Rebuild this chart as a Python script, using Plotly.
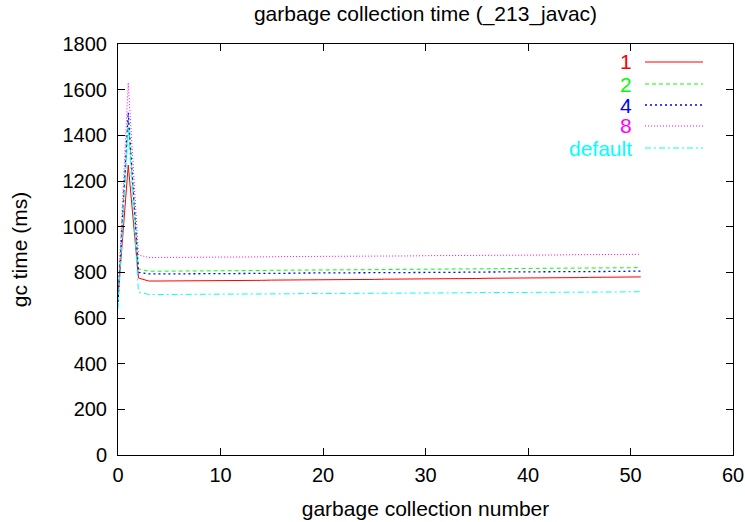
import plotly.graph_objects as go

gc_number = list(range(52))
t1 = [690, 1270, 775, 762, 762, 762, 763, 763, 763, 764, 764, 764, 765, 765, 765, 766, 766, 766, 767, 767,
      767, 768, 768, 768, 769, 769, 770, 770, 770, 771, 771, 772, 772, 772, 773, 773, 774, 774, 774, 775,
      775, 776, 776, 776, 777, 777, 778, 778, 778, 779, 779, 780]
t2 = [680, 1470, 815, 805, 805, 805, 806, 806, 806, 807, 807, 807, 808, 808, 808, 809, 809, 809, 810, 810,
      810, 811, 811, 811, 812, 812, 812, 813, 813, 813, 814, 814, 814, 815, 815, 815, 816, 816, 816, 817,
      817, 817, 818, 818, 818, 819, 819, 819, 820, 820, 820, 821]
t4 = [670, 1500, 800, 793, 793, 793, 794, 794, 794, 794, 795, 795, 795, 795, 796, 796, 796, 796, 797, 797,
      797, 797, 798, 798, 798, 798, 799, 799, 799, 799, 800, 800, 800, 800, 801, 801, 801, 801, 802, 802,
      802, 802, 803, 803, 803, 803, 804, 804, 804, 804, 805, 805]
t8 = [700, 1630, 876, 865, 865, 865, 866, 866, 866, 867, 867, 867, 867, 868, 868, 868, 869, 869, 869, 869,
      870, 870, 870, 871, 871, 871, 871, 872, 872, 872, 873, 873, 873, 873, 874, 874, 874, 875, 875, 875,
      875, 876, 876, 876, 877, 877, 877, 877, 878, 878, 878, 879]
tdef = [640, 1430, 714, 703, 703, 703, 704, 704, 704, 704, 705, 705, 705, 705, 706, 706, 706, 706, 707, 707,
        707, 707, 708, 708, 708, 708, 709, 709, 709, 709, 710, 710, 710, 710, 711, 711, 711, 711, 712, 712,
        712, 712, 713, 713, 713, 713, 714, 714, 714, 714, 715, 715]

series_names = ["1", "2", "4", "8", "default"]
series_values = [t1, t2, t4, t8, tdef]
colors = ["#ff0000", "#00ff00", "#0000ff", "#ff00ff", "#00ffff"]
dashes = ["solid", "4px,3px", "2px,3px", "1px,2px", "6px,3px,2px,3px"]
widths = [1, 1, 1.3, 1, 1]

FONT = "Liberation Sans, Arial, Helvetica, sans-serif"

fig = go.Figure()
for name, vals, c, d, w in zip(series_names, series_values, colors, dashes, widths):
    fig.add_trace(go.Scatter(x=gc_number[:len(vals)], y=vals, mode="lines", name=name,
                             line=dict(color=c, dash=d, width=w), showlegend=False))

# gnuplot-style legend (text right-aligned, sample line to the right)
W, H = 745, 522
L, R, T, B = 118, 12, 44, 67
pw, ph = W - L - R, H - T - B
rows_y = [62, 84, 105, 126, 148]
for name, c, d, w, yy in zip(series_names, colors, dashes, widths, rows_y):
    yp = 1 - (yy - T) / ph
    fig.add_annotation(xref="paper", yref="paper", x=(634 - L) / pw, y=yp, text=name,
                       showarrow=False, xanchor="right", yanchor="middle",
                       font=dict(family=FONT, size=21, color=c))
    fig.add_shape(type="line", xref="paper", yref="paper",
                  x0=(645 - L) / pw, x1=(703 - L) / pw, y0=yp, y1=yp,
                  line=dict(color=c, dash=d, width=w))

axis_common = dict(showgrid=False, zeroline=False, showline=True, linecolor="black", linewidth=1,
                   mirror="allticks", ticks="inside", ticklen=7, tickcolor="black", automargin=False,
                   tickfont=dict(family=FONT, size=20, color="black"))

fig.update_layout(
    width=W, height=H,
    margin=dict(l=L, r=R, t=T, b=B),
    paper_bgcolor="white", plot_bgcolor="white",
    title=dict(text="garbage collection time (_213_javac)", xref="paper", x=0.5, xanchor="center",
               y=1 - 14 / H, yanchor="middle", font=dict(family=FONT, size=21, color="black")),
    xaxis=dict(range=[0, 60], dtick=10, ticklabelstandoff=2,
               title=dict(text="garbage collection number",
                          font=dict(family=FONT, size=21, color="black"), standoff=16), **axis_common),
    yaxis=dict(range=[0, 1800], dtick=200, ticklabelstandoff=6,
               title=dict(text="gc time (ms)",
                          font=dict(family=FONT, size=21, color="black"), standoff=29), **axis_common),
)

fig.write_html("out.html", config={"displayModeBar": False},
               post_script="document.body.style.margin='0';")
